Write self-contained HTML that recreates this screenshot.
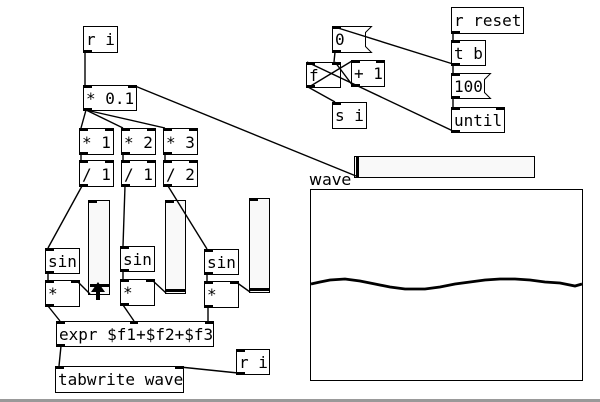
<!DOCTYPE html>
<html><head><meta charset="utf-8"><style>
html,body{margin:0;padding:0;background:#fff;}
svg{display:block}
text{font-family:"DejaVu Sans Mono","Liberation Mono",monospace;font-size:16px;fill:#000}
</style></head><body>
<svg width="600" height="402" viewBox="0 0 600 402" xmlns="http://www.w3.org/2000/svg">
<rect x="0" y="0" width="600" height="402" fill="#fff"/>
<g stroke="#000" stroke-width="1" fill="#fff">
<rect x="83.5" y="26.5" width="34" height="26"/>
<rect x="83.5" y="85.5" width="53" height="25"/>
<rect x="79.5" y="128.5" width="34" height="26"/>
<rect x="121.5" y="128.5" width="34" height="26"/>
<rect x="163.5" y="128.5" width="34" height="26"/>
<rect x="79.5" y="160.5" width="34" height="26"/>
<rect x="121.5" y="160.5" width="34" height="26"/>
<rect x="163.5" y="160.5" width="34" height="26"/>
<rect x="45.5" y="248.5" width="34" height="25"/>
<rect x="45.5" y="280.5" width="34" height="26"/>
<rect x="120.5" y="246.5" width="34" height="25"/>
<rect x="120.5" y="279.5" width="34" height="26"/>
<rect x="204.5" y="249.5" width="34" height="25"/>
<rect x="204.5" y="281.5" width="34" height="26"/>
<rect x="56.5" y="321.5" width="157" height="25"/>
<rect x="55.5" y="366.5" width="128" height="26"/>
<rect x="236.5" y="349.5" width="33" height="25"/>
<rect x="306.5" y="62.5" width="34" height="25"/>
<rect x="351.5" y="60.5" width="33" height="26"/>
<rect x="332.5" y="102.5" width="34" height="26"/>
<rect x="451.5" y="7.5" width="72" height="26"/>
<rect x="451.5" y="40.5" width="34" height="25"/>
<rect x="451.5" y="107.5" width="53" height="25"/>
<path d="M332.5,26.5 H371.5 L365.5,32.5 V46.5 L371.5,52.5 H332.5 Z"/>
<path d="M451.5,73.5 H490.5 L484.5,79.5 V92.5 L490.5,98.5 H451.5 Z"/>
<rect x="88.5" y="200.5" width="21" height="94" fill="#f9f9f9"/>
<rect x="165.5" y="200.5" width="20" height="93" fill="#f9f9f9"/>
<rect x="249.5" y="198.5" width="20" height="94" fill="#f9f9f9"/>
<rect x="354.5" y="156.5" width="180" height="21" fill="#f9f9f9"/>
<rect x="310.5" y="189.5" width="272" height="191"/>
</g>
<g stroke="#000" stroke-width="1.4" fill="none">
<line x1="85" y1="52" x2="85" y2="85"/>
<line x1="86" y1="110" x2="81" y2="128"/>
<line x1="86" y1="110" x2="123" y2="128"/>
<line x1="86" y1="110" x2="165" y2="128"/>
<line x1="135" y1="86" x2="356" y2="176"/>
<line x1="81" y1="154" x2="81" y2="160"/>
<line x1="123" y1="154" x2="123" y2="160"/>
<line x1="165" y1="154" x2="165" y2="160"/>
<line x1="82" y1="186" x2="48" y2="248"/>
<line x1="125" y1="186" x2="123" y2="246"/>
<line x1="168" y1="186" x2="207" y2="249"/>
<line x1="48" y1="273" x2="48" y2="280"/>
<line x1="123" y1="271" x2="123" y2="279"/>
<line x1="207" y1="274" x2="207" y2="281"/>
<line x1="90" y1="294" x2="77" y2="281"/>
<line x1="166" y1="293" x2="152" y2="280"/>
<line x1="250" y1="292" x2="236" y2="282"/>
<line x1="48" y1="306" x2="60" y2="321"/>
<line x1="123" y1="305" x2="134" y2="321"/>
<line x1="208" y1="307" x2="208" y2="321"/>
<line x1="61" y1="346" x2="59" y2="366"/>
<line x1="238" y1="373" x2="180" y2="367"/>
<line x1="335" y1="52" x2="334" y2="62"/>
<line x1="338" y1="28" x2="453" y2="64"/>
<line x1="307" y1="62" x2="453" y2="131"/>
<line x1="309" y1="87" x2="352" y2="61"/>
<line x1="353" y1="86" x2="335" y2="62"/>
<line x1="308" y1="87" x2="335" y2="102"/>
<line x1="453" y1="33" x2="453" y2="40"/>
<line x1="453" y1="65" x2="453" y2="73"/>
<line x1="453" y1="98" x2="453" y2="107"/>
</g>
<g fill="#000">
<rect x="166" y="289" width="19" height="3"/>
<rect x="250" y="288" width="19" height="3"/>
<rect x="356" y="157" width="3" height="20"/>
<rect x="90" y="284" width="19" height="3"/>
<path d="M98,282 L91,292 L96,292 L96,300 L100,300 L100,292 L105,292 Z"/>
</g>
<g fill="#000">
<rect x="84" y="50" width="8" height="3"/>
<rect x="84" y="86" width="8" height="2"/><rect x="128" y="86" width="8" height="2"/><rect x="84" y="108" width="8" height="3"/>
<rect x="80" y="129" width="8" height="2"/><rect x="105" y="129" width="8" height="2"/><rect x="80" y="152" width="8" height="3"/>
<rect x="122" y="129" width="8" height="2"/><rect x="147" y="129" width="8" height="2"/><rect x="122" y="152" width="8" height="3"/>
<rect x="164" y="129" width="8" height="2"/><rect x="189" y="129" width="8" height="2"/><rect x="164" y="152" width="8" height="3"/>
<rect x="80" y="161" width="8" height="2"/><rect x="105" y="161" width="8" height="2"/><rect x="80" y="184" width="8" height="3"/>
<rect x="122" y="161" width="8" height="2"/><rect x="147" y="161" width="8" height="2"/><rect x="122" y="184" width="8" height="3"/>
<rect x="164" y="161" width="8" height="2"/><rect x="189" y="161" width="8" height="2"/><rect x="164" y="184" width="8" height="3"/>
<rect x="46" y="249" width="8" height="2"/><rect x="46" y="271" width="8" height="3"/>
<rect x="46" y="281" width="8" height="2"/><rect x="71" y="281" width="8" height="2"/><rect x="46" y="304" width="8" height="3"/>
<rect x="121" y="247" width="8" height="2"/><rect x="121" y="269" width="8" height="3"/>
<rect x="121" y="280" width="8" height="2"/><rect x="146" y="280" width="8" height="2"/><rect x="121" y="303" width="8" height="3"/>
<rect x="205" y="250" width="8" height="2"/><rect x="205" y="272" width="8" height="3"/>
<rect x="205" y="282" width="8" height="2"/><rect x="230" y="282" width="8" height="2"/><rect x="205" y="305" width="8" height="3"/>
<rect x="57" y="322" width="8" height="2"/><rect x="130" y="322" width="8" height="2"/><rect x="205" y="322" width="8" height="2"/><rect x="57" y="344" width="8" height="3"/>
<rect x="56" y="367" width="8" height="2"/><rect x="175" y="367" width="8" height="2"/>
<rect x="237" y="350" width="8" height="2"/><rect x="237" y="372" width="8" height="3"/>
<rect x="307" y="63" width="8" height="2"/><rect x="332" y="63" width="8" height="2"/><rect x="307" y="85" width="8" height="3"/>
<rect x="352" y="61" width="8" height="2"/><rect x="376" y="61" width="8" height="2"/><rect x="352" y="84" width="8" height="3"/>
<rect x="333" y="103" width="8" height="2"/>
<rect x="333" y="27" width="8" height="2"/><rect x="333" y="50" width="8" height="3"/>
<rect x="452" y="31" width="8" height="3"/>
<rect x="452" y="41" width="8" height="2"/><rect x="452" y="63" width="8" height="3"/>
<rect x="452" y="74" width="8" height="2"/><rect x="452" y="96" width="8" height="3"/>
<rect x="452" y="108" width="8" height="2"/><rect x="496" y="108" width="8" height="2"/><rect x="452" y="130" width="8" height="3"/>
<rect x="89" y="201" width="8" height="2"/><rect x="166" y="201" width="8" height="2"/><rect x="250" y="199" width="8" height="2"/>
</g>
<polyline fill="none" stroke="#000" stroke-width="2.8" points="311,284 320,282 330,280 345,279 360,281 375,284 390,287 405,289 425,289 440,287 455,284 470,282 485,280 500,279 515,279 530,280 545,282 560,283 575,286 582,284"/>
<text x="86" y="45">r i</text>
<text x="86" y="104">* 0.1</text>
<text x="82" y="148">* 1</text><text x="124" y="148">* 2</text><text x="166" y="148">* 3</text>
<text x="82" y="180">/ 1</text><text x="124" y="180">/ 1</text><text x="166" y="180">/ 2</text>
<text x="48" y="267">sin</text><text x="48" y="299">*</text>
<text x="123" y="265">sin</text><text x="123" y="298">*</text>
<text x="207" y="268">sin</text><text x="207" y="300">*</text>
<text x="59" y="340">expr $f1+$f2+$f3</text>
<text x="58" y="385">tabwrite wave</text>
<text x="239" y="368">r i</text>
<text x="335" y="45">0</text>
<text x="309" y="81">f</text>
<text x="354" y="79">+ 1</text>
<text x="335" y="121">s i</text>
<text x="454" y="26">r reset</text>
<text x="454" y="59">t b</text>
<text x="454" y="92">100</text>
<text x="454" y="126">until</text>
<text x="309" y="185" style="font-family:'DejaVu Sans','Liberation Sans',sans-serif;font-size:16px">wave</text>
<rect x="0" y="399" width="600" height="3" fill="#999"/>
</svg>
</body></html>
